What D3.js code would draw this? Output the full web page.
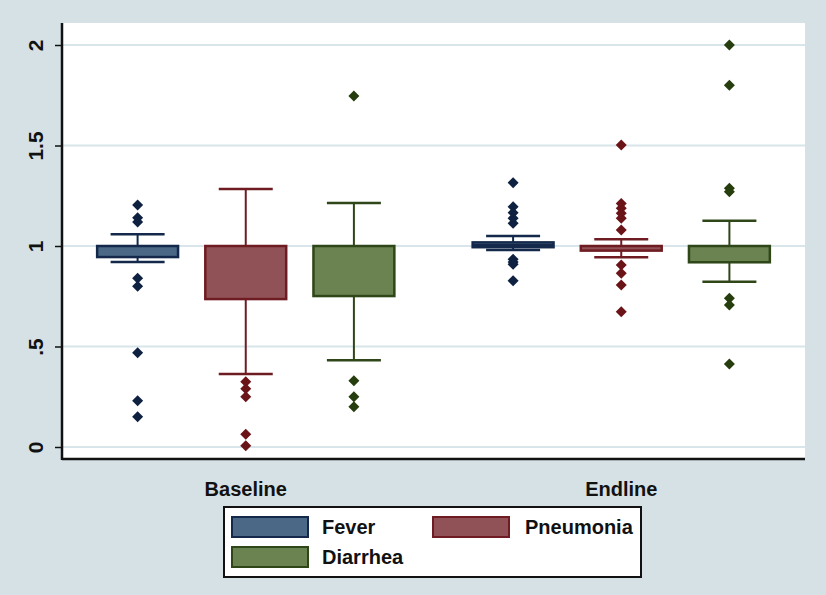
<!DOCTYPE html>
<html>
<head>
<meta charset="utf-8">
<script src="https://cdn.jsdelivr.net/npm/d3@7"></script>
<style>
  html, body { margin: 0; padding: 0; background: #d5e1e5; }
  svg { display: block; }
  text { font-family: "Liberation Sans", Arial, sans-serif; font-weight: bold; fill: #111; }
</style>
</head>
<body>
<svg id="chart" width="826" height="595"></svg>
<script>
// ---- data ----
const groups = ["Baseline", "Endline"];
const series = ["Fever", "Pneumonia", "Diarrhea"];
const yTicks = [0, 0.5, 1, 1.5, 2];
const yTickLabels = ["0", ".5", "1", "1.5", "2"];

// per group, per series: [lowerWhisker, q1, median, q3, upperWhisker]
const baselineStats = [
  [0.92, 0.945, 1.0, 1.0, 1.058],
  [0.363, 0.736, 1.0, 1.0, 1.284],
  [0.431, 0.751, 1.0, 1.0, 1.214]
];
const endlineStats = [
  [0.98, 0.994, 1.005, 1.018, 1.05],
  [0.944, 0.977, 1.0, 1.0, 1.033],
  [0.822, 0.919, 1.0, 1.0, 1.126]
];
const baselineOutliers = [
  [1.204, 1.14, 1.12, 0.839, 0.80, 0.469, 0.23, 0.151],
  [0.325, 0.29, 0.25, 0.063, 0.006],
  [1.746, 0.33, 0.25, 0.20]
];
const endlineOutliers = [
  [1.315, 1.195, 1.166, 1.138, 1.113, 0.934, 0.92, 0.909, 0.827],
  [1.502, 1.212, 1.188, 1.163, 1.138, 1.08, 0.905, 0.864, 0.806, 0.673],
  [2.0, 1.80, 1.287, 1.27, 0.74, 0.706, 0.413]
];

const fills = ["#4b6887", "#915257", "#6b8350"];
const strokes = ["#13284a", "#6e1c22", "#2e4618"];
const markers = ["#0f2140", "#6a1418", "#263d0e"];

// ---- layout ----
const svg = d3.select("#chart");
const plot = { left: 62, right: 805, top: 23, bottom: 459 };

svg.append("rect").attr("x", 0).attr("y", 0).attr("width", 826).attr("height", 595).attr("fill", "#d5e1e5");
svg.append("rect").attr("x", plot.left).attr("y", plot.top)
  .attr("width", plot.right - plot.left).attr("height", plot.bottom - plot.top)
  .attr("fill", "#ffffff");

const y = d3.scaleLinear().domain([0, 2]).range([447, 45]);
const xg = d3.scaleBand().domain(groups).range([plot.left - 4, plot.right + 4]).padding(0);
const xs = d3.scaleBand().domain(series).range([0, xg.bandwidth()]).paddingInner(0.252).paddingOuter(0.362);

// gridlines
svg.append("g").selectAll("line").data(yTicks).join("line")
  .attr("x1", plot.left + 1).attr("x2", plot.right)
  .attr("y1", d => y(d)).attr("y2", d => y(d))
  .attr("stroke", "#d8e5ea").attr("stroke-width", 2);

// y axis
const yAxis = d3.axisLeft(y).tickValues(yTicks).tickFormat((d, i) => yTickLabels[i]).tickSize(7).tickPadding(0);
const gy = svg.append("g").attr("transform", `translate(${plot.left},0)`).call(yAxis);
gy.select(".domain").remove();
gy.selectAll(".tick line").attr("stroke", "#111").attr("stroke-width", 1.5);
gy.selectAll(".tick text")
  .attr("transform", "rotate(-90)")
  .attr("x", 0).attr("y", -19)
  .attr("dy", 0)
  .attr("text-anchor", "middle")
  .style("font-size", "21px").style("font-family", "'Liberation Sans', Arial, sans-serif")
  .style("font-weight", "bold").attr("fill", "#111");
svg.append("line").attr("x1", plot.left).attr("x2", plot.left).attr("y1", plot.top).attr("y2", plot.bottom + 1)
  .attr("stroke", "#111").attr("stroke-width", 2.5);
svg.append("line").attr("x1", plot.left).attr("x2", plot.right).attr("y1", plot.bottom).attr("y2", plot.bottom)
  .attr("stroke", "#111").attr("stroke-width", 2.5);

// x labels
svg.append("g").selectAll("text").data(groups).join("text")
  .attr("x", d => xg(d) + xg.bandwidth() / 2)
  .attr("y", 496)
  .attr("text-anchor", "middle")
  .style("font-size", "20px")
  .text(d => d);

// boxes
const statsByGroup = { Baseline: baselineStats, Endline: endlineStats };
const outByGroup = { Baseline: baselineOutliers, Endline: endlineOutliers };
const capW = 54;

groups.forEach(g => {
  series.forEach((s, i) => {
    const [lw, q1, med, q3, uw] = statsByGroup[g][i];
    const x0 = xg(g) + xs(s);
    const bw = xs.bandwidth();
    const cx = x0 + bw / 2;
    const gg = svg.append("g");
    // whiskers
    gg.append("line").attr("x1", cx).attr("x2", cx).attr("y1", y(uw)).attr("y2", y(q3))
      .attr("stroke", strokes[i]).attr("stroke-width", 2);
    gg.append("line").attr("x1", cx).attr("x2", cx).attr("y1", y(q1)).attr("y2", y(lw))
      .attr("stroke", strokes[i]).attr("stroke-width", 2);
    gg.append("line").attr("x1", cx - capW / 2).attr("x2", cx + capW / 2).attr("y1", y(uw)).attr("y2", y(uw))
      .attr("stroke", strokes[i]).attr("stroke-width", 2.5);
    gg.append("line").attr("x1", cx - capW / 2).attr("x2", cx + capW / 2).attr("y1", y(lw)).attr("y2", y(lw))
      .attr("stroke", strokes[i]).attr("stroke-width", 2.5);
    // box
    gg.append("rect").attr("x", x0).attr("y", y(q3)).attr("width", bw).attr("height", Math.max(1, y(q1) - y(q3)))
      .attr("fill", fills[i]).attr("stroke", strokes[i]).attr("stroke-width", 2.5);
    gg.append("line").attr("x1", x0).attr("x2", x0 + bw).attr("y1", y(med)).attr("y2", y(med))
      .attr("stroke", strokes[i]).attr("stroke-width", 2);
    // outliers
    const r = 5.5;
    gg.selectAll("path.o").data(outByGroup[g][i]).join("path")
      .attr("class", "o")
      .attr("d", d => `M${cx},${y(d) - r}L${cx + r},${y(d)}L${cx},${y(d) + r}L${cx - r},${y(d)}Z`)
      .attr("fill", markers[i]);
  });
});

// legend
const lg = svg.append("g");
lg.append("rect").attr("x", 224).attr("y", 507).attr("width", 417).attr("height", 70)
  .attr("fill", "#ffffff").attr("stroke", "#111").attr("stroke-width", 2);
const legPos = [[232, 517, 322], [433, 517, 525], [232, 547, 322]];
series.forEach((s, i) => {
  const [sx, sy, tx] = legPos[i];
  lg.append("rect").attr("x", sx).attr("y", sy).attr("width", 76).attr("height", 20)
    .attr("fill", fills[i]).attr("stroke", strokes[i]).attr("stroke-width", 2);
  lg.append("text").attr("x", tx).attr("y", sy + 17).style("font-size", "20px").text(s);
});
</script>
</body>
</html>
